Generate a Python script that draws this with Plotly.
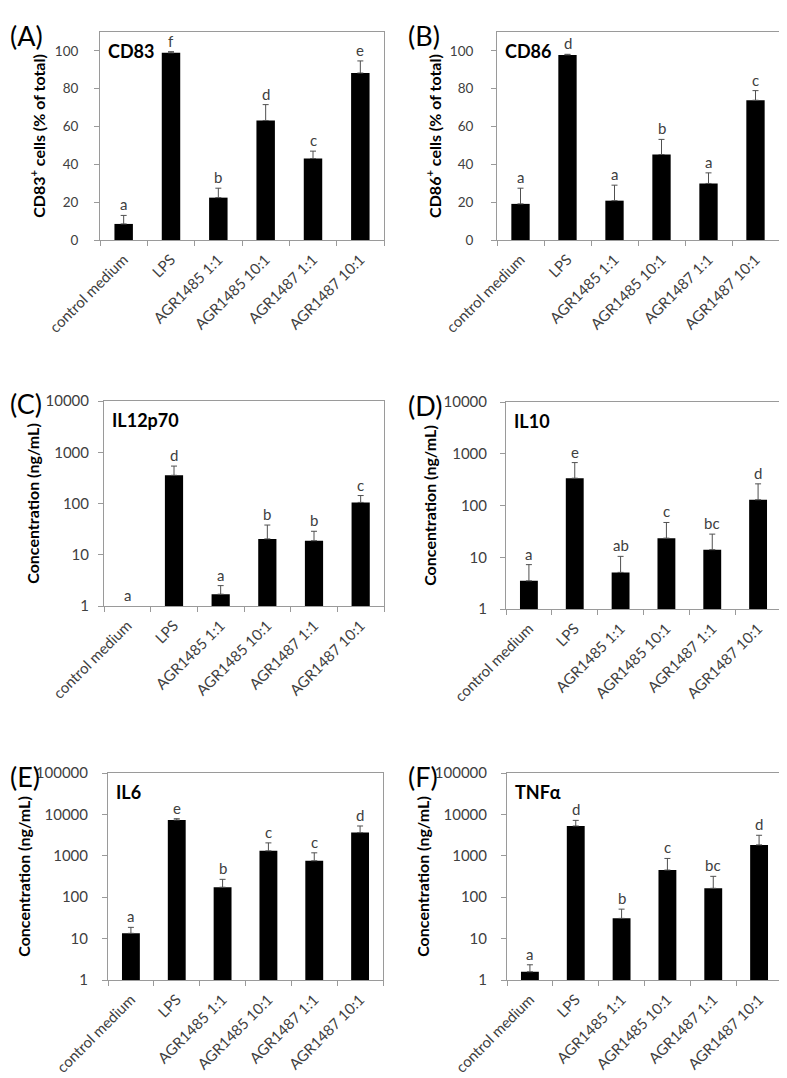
import plotly.graph_objects as go
import math

W, H = 787, 1078

categories = ["control medium", "LPS", "AGR1485 1:1", "AGR1485 10:1", "AGR1487 1:1", "AGR1487 10:1"]

cd83_mean = [8.5, 99.0, 22.4, 63.2, 43.1, 88.3]
cd83_sd = [4.5, 0.6, 5.0, 8.4, 3.9, 6.4]
cd83_letters = ["a", "f", "b", "d", "c", "e"]

cd86_mean = [19.1, 97.9, 20.8, 45.2, 29.9, 73.9]
cd86_sd = [8.3, 0.3, 8.2, 8.0, 5.6, 5.1]
cd86_letters = ["a", "d", "a", "b", "a", "c"]

il12_mean = [None, 355, 1.7, 20.4, 18.8, 105]
il12_sd = [0, 182, 0.8, 17.6, 9.9, 38]
il12_letters = ["a", "d", "a", "b", "b", "c"]

il10_mean = [3.5, 337, 5.1, 23.4, 14.0, 129]
il10_sd = [3.7, 338, 5.3, 23.6, 14.0, 133]
il10_letters = ["a", "e", "ab", "c", "bc", "d"]

il6_mean = [13.4, 7310, 174, 1318, 759, 3630]
il6_sd = [5.3, 560, 96, 732, 421, 1620]
il6_letters = ["a", "e", "b", "c", "c", "d"]

tnf_mean = [1.58, 5250, 30.8, 453, 164, 1836]
tnf_sd = [0.75, 1930, 20.7, 410, 155, 1294]
tnf_letters = ["a", "d", "b", "c", "bc", "d"]

FONT = "Lato"
TICKCOL = "#404040"
FRAME = "#9a9a9a"

panels = [
    dict(mean=cd83_mean, sd=cd83_sd, letters=cd83_letters, log=False, rng=[0, 110], dtick=20,
         ytitle="CD83<sup>+</sup> cells (% of total)", tag="(A)", inset="CD83",
         box=(92, 24, 376, 232), tfs=13.5, standoff=13, tstand=5),
    dict(mean=cd86_mean, sd=cd86_sd, letters=cd86_letters, log=False, rng=[0, 110], dtick=20,
         ytitle="CD86<sup>+</sup> cells (% of total)", tag="(B)", inset="CD86",
         box=(489, 24, 771, 232), tfs=13.5, standoff=15, tstand=4),
    dict(mean=il12_mean, sd=il12_sd, letters=il12_letters, log=True, rng=[0, 4], dtick=1,
         ytitle="Concentration (ng/mL)", tag="(C)", inset="IL12p70",
         box=(96, 393, 376, 598), tfs=15, standoff=6, tstand=1),
    dict(mean=il10_mean, sd=il10_sd, letters=il10_letters, log=True, rng=[0, 4], dtick=1,
         ytitle="Concentration (ng/mL)", tag="(D)", inset="IL10",
         box=(498, 394, 773, 601), tfs=15, standoff=10, tstand=2),
    dict(mean=il6_mean, sd=il6_sd, letters=il6_letters, log=True, rng=[0, 5], dtick=1,
         ytitle="Concentration (ng/mL)", tag="(E)", inset="IL6",
         box=(100, 765, 375, 972), tfs=15, standoff=11, tstand=1),
    dict(mean=tnf_mean, sd=tnf_sd, letters=tnf_letters, log=True, rng=[0, 5], dtick=1,
         ytitle="Concentration (ng/mL)", tag="(F)", inset="TNF\u03b1",
         box=(499, 765, 774, 972), tfs=15, standoff=11, tstand=1),
]

fig = go.Figure()
annotations = []
layout = {}

for i, p in enumerate(panels, start=1):
    xa = "x" if i == 1 else f"x{i}"
    ya = "y" if i == 1 else f"y{i}"
    l, t, r, b = p["box"]
    fig.add_trace(go.Bar(
        x=categories, y=p["mean"], xaxis=xa, yaxis=ya, width=0.39,
        marker=dict(color="black", line=dict(width=0)),
        error_y=dict(type="data", array=p["sd"], arrayminus=[0] * len(p["sd"]), symmetric=False,
                     color="#505050", thickness=1, width=3),
        showlegend=False, hoverinfo="skip"))
    layout[f"xaxis{'' if i == 1 else i}"] = dict(
        domain=[l / W, r / W], anchor=ya, type="category", tickangle=-45, automargin=False,
        ticks="outside", tickson="boundaries", ticklen=5, tickcolor=FRAME,
        showline=True, linecolor=FRAME, linewidth=1, mirror=True, showgrid=False,
        ticklabelstandoff=4,
        tickfont=dict(family=FONT, size=15, color=TICKCOL))
    yax = dict(
        domain=[1 - b / H, 1 - t / H], anchor=xa, range=p["rng"], dtick=p["dtick"],
        automargin=False,
        ticks="outside", ticklen=5, tickcolor=FRAME, showline=True, linecolor=FRAME,
        linewidth=1, mirror=True, showgrid=False, zeroline=False,
        ticklabelstandoff=p["standoff"],
        tickfont=dict(family=FONT, size=p["tfs"], color=TICKCOL),
        title=dict(text=p["ytitle"], standoff=p["tstand"],
                   font=dict(family=FONT, size=16, color="black", weight="bold")))
    if p["log"]:
        yax.update(type="log", tickformat="d")
    layout[f"yaxis{'' if i == 1 else i}"] = yax

    # significance letters above bars
    for c, m, s, lt in zip(categories, p["mean"], p["sd"], p["letters"]):
        top = (m or 1) + (s or 0)
        yv = math.log10(top) if p["log"] else top
        annotations.append(dict(x=c, y=yv, xref=xa, yref=ya, text=lt, showarrow=False,
                                yanchor="bottom", yshift=0,
                                font=dict(family=FONT, size=15, color=TICKCOL)))
    # inset title
    annotations.append(dict(x=(l + 6) / W, y=1 - (t + 19) / H, xref="paper", yref="paper",
                            text=p["inset"], showarrow=False, xanchor="left", yanchor="middle",
                            font=dict(family=FONT, size=18, color="black", weight="bold")))
    # panel tag
    tx = 0 if l < 300 else 398
    annotations.append(dict(x=tx / W, y=1 - (t + 3) / H, xref="paper", yref="paper",
                            text=p["tag"], showarrow=False, xanchor="left", yanchor="middle",
                            font=dict(family=FONT, size=27, color="black")))

fig.update_layout(**layout)
fig.update_layout(width=W, height=H, margin=dict(l=0, r=0, t=0, b=0, autoexpand=False),
                  paper_bgcolor="white", plot_bgcolor="white", showlegend=False,
                  annotations=annotations, bargap=0.6,
                  font=dict(family=FONT, color=TICKCOL))

fig.write_html("out.html")
